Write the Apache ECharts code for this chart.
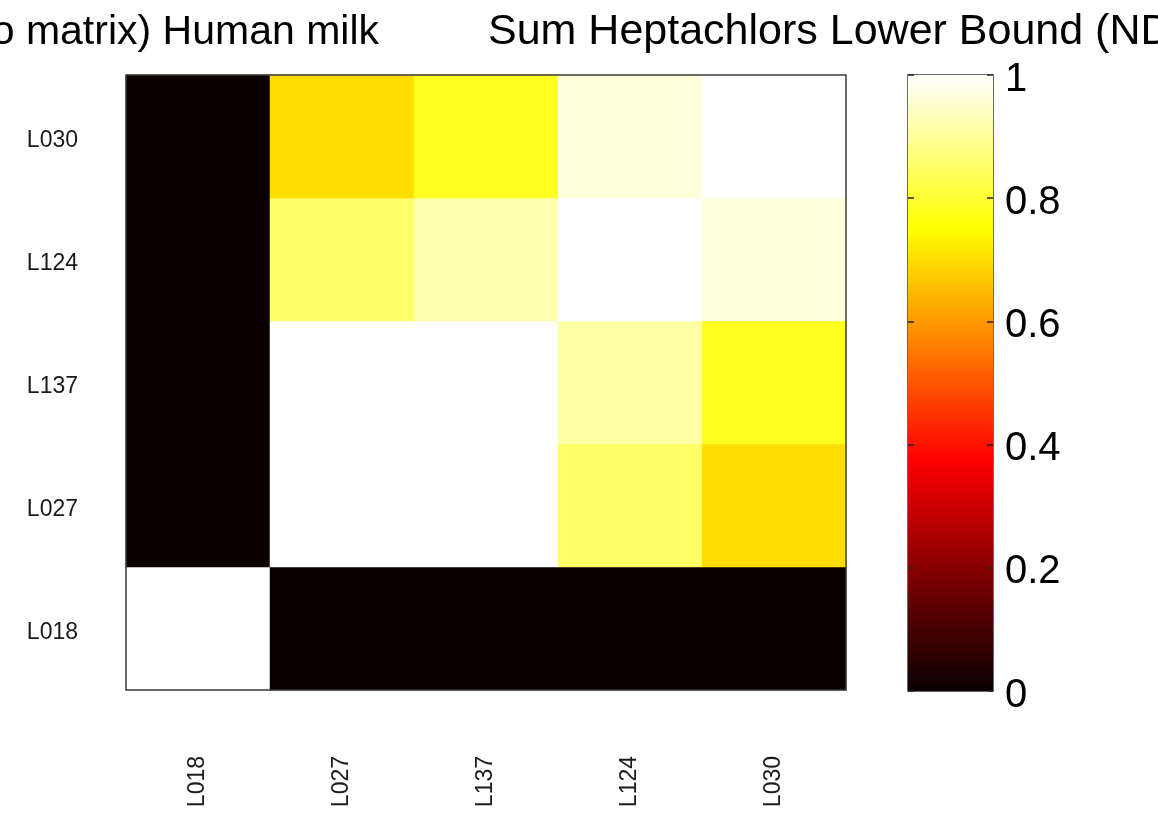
<!DOCTYPE html>
<html>
<head>
<meta charset="utf-8">
<script src="https://cdn.jsdelivr.net/npm/echarts@6/dist/echarts.min.js"></script>
<style>
html,body{margin:0;padding:0;background:#fff;}
#chart{width:1158px;height:817px;}
</style>
</head>
<body>
<div id="chart"></div>
<script>
// Categories
const xCategories = ['L018', 'L027', 'L137', 'L124', 'L030'];
const yCategories = ['L018', 'L027', 'L137', 'L124', 'L030']; // bottom to top
// Matrix rows listed top (L030) to bottom (L018); columns follow xCategories
const rowL030 = [0, 0.70, 0.78, 0.965, 1];
const rowL124 = [0, 0.85, 0.92, 1, 0.965];
const rowL137 = [0, 1, 1, 0.91, 0.78];
const rowL027 = [0, 1, 1, 0.85, 0.70];
const rowL018 = [1, 0, 0, 0, 0];
const colorbarTicks = [0, 0.2, 0.4, 0.6, 0.8, 1];
const titleLeft = '(Ratio matrix) Human milk';
const titleRight = 'Sum Heptachlors Lower Bound (ND=0)';

const rowsByY = { L018: rowL018, L027: rowL027, L137: rowL137, L124: rowL124, L030: rowL030 };
const heatData = [];
yCategories.forEach((yc, yi) => {
  rowsByY[yc].forEach((v, xi) => heatData.push([xi, yi, v]));
});

// MATLAB "hot" colormap, evenly spaced stops
const hot = ['#0b0000', '#550000', '#aa0000', '#ff0000', '#ff5500', '#ffaa00', '#ffff00', '#ffff80', '#ffffff'];
const hotStops = hot.map((c, i) => ({ offset: i / (hot.length - 1), color: c }));

const chart = echarts.init(document.getElementById('chart'), null, { renderer: 'canvas' });
const font = 'Liberation Sans, Arial, Helvetica, sans-serif';
chart.setOption({
  backgroundColor: '#ffffff',
  animation: false,
  title: [
    { text: titleLeft, right: 779, top: 12, padding: 0,
      textStyle: { fontFamily: font, fontSize: 41, fontWeight: 'normal', color: '#000' } },
    { text: titleRight, left: 488, top: 11, padding: 0,
      textStyle: { fontFamily: font, fontSize: 43, fontWeight: 'normal', color: '#000' } }
  ],
  grid: [
    { left: 126, top: 75, width: 720, height: 615, show: true, borderColor: '#3a3a3a', borderWidth: 1.5, backgroundColor: 'transparent', z: 10 },
    { left: 908, top: 75, width: 85, height: 616, show: true, borderColor: '#3a3a3a', borderWidth: 1.5 }
  ],
  xAxis: [
    { type: 'category', gridIndex: 0, data: xCategories,
      axisLine: { show: false }, axisTick: { show: false }, splitLine: { show: false },
      axisLabel: { rotate: 90, margin: 66, fontFamily: font, fontSize: 23, color: '#1a1a1a' } },
    { type: 'category', gridIndex: 1, data: [''],
      axisLine: { show: false }, axisTick: { show: false }, axisLabel: { show: false } }
  ],
  yAxis: [
    { type: 'category', gridIndex: 0, data: yCategories,
      axisLine: { show: false }, axisTick: { show: false }, splitLine: { show: false },
      axisLabel: { margin: 48, verticalAlign: 'top', lineHeight: 8, fontFamily: font, fontSize: 23, color: '#1a1a1a' } },
    { type: 'value', gridIndex: 1, min: 0, max: 1, interval: 0.2, position: 'right', z: 5,
      axisLine: { show: false }, splitLine: { show: false },
      axisTick: { show: true, inside: true, length: 6, lineStyle: { color: '#222', width: 1.5 } },
      axisLabel: { margin: 12, verticalAlign: 'top', lineHeight: 9, fontFamily: font, fontSize: 40, color: '#000',
        formatter: v => colorbarTicks.indexOf(Math.round(v * 10) / 10) >= 0 ? String(Math.round(v * 10) / 10) : '' } },
    { type: 'value', gridIndex: 1, min: 0, max: 1, interval: 0.2, position: 'left', z: 5,
      axisLine: { show: false }, splitLine: { show: false },
      axisTick: { show: true, inside: true, length: 6, lineStyle: { color: '#222', width: 1.5 } },
      axisLabel: { show: false } }
  ],
  visualMap: {
    show: false, type: 'continuous', min: 0, max: 1, seriesIndex: 0, dimension: 2,
    inRange: { color: hot }
  },
  series: [
    { type: 'heatmap', xAxisIndex: 0, yAxisIndex: 0, data: heatData,
      itemStyle: { borderWidth: 0 }, emphasis: { disabled: true } },
    { type: 'bar', xAxisIndex: 1, yAxisIndex: 1, data: [1], barWidth: '100%', z: 1,
      itemStyle: { color: new echarts.graphic.LinearGradient(0, 1, 0, 0, hotStops) },
      emphasis: { disabled: true } }
  ]
});
</script>
</body>
</html>
